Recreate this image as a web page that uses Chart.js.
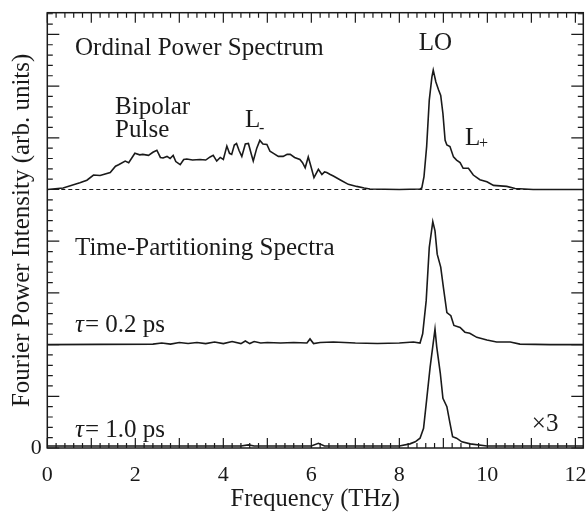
<!DOCTYPE html>
<html>
<head>
<meta charset="utf-8">
<script src="https://cdn.jsdelivr.net/npm/chart.js@4.4.0/dist/chart.umd.min.js"></script>
<style>
  html, body { margin: 0; padding: 0; background: #fff; }
  #wrap { width: 587px; height: 515px; position: relative; }
</style>
</head>
<body>
<div id="wrap"><canvas id="myChart"></canvas></div>
<script>
// Ordinal power spectrum (drawn with offset 5)
const freqOrdinal = [0.00, 0.36, 0.74, 0.90, 1.05, 1.20, 1.43, 1.55, 1.62, 1.77, 1.85, 1.99, 2.10, 2.17, 2.30, 2.40,
    2.49, 2.57, 2.63, 2.72, 2.79, 2.86, 2.92, 3.02, 3.10, 3.17, 3.30, 3.47, 3.60, 3.70, 3.77, 3.85, 3.93, 4.00,
    4.08, 4.14, 4.19, 4.25, 4.30, 4.36, 4.42, 4.50, 4.57, 4.63, 4.68, 4.76, 4.83, 4.90, 4.99, 5.06, 5.14, 5.25,
    5.36, 5.45, 5.52, 5.62, 5.74, 5.80, 5.86, 5.93, 5.99, 6.06, 6.16, 6.24, 6.30, 6.35, 6.43, 6.50, 6.65, 6.84,
    7.03, 7.20, 7.33, 8.00, 8.47, 8.51, 8.56, 8.62, 8.68, 8.74, 8.77, 8.83, 8.89, 8.94, 8.99, 9.04, 9.08, 9.15,
    9.23, 9.30, 9.38, 9.45, 9.57, 9.68, 9.83, 9.99, 10.14, 10.44, 10.63, 11.04, 12.18];
const powOrdinal = [0.00, 0.03, 0.13, 0.18, 0.28, 0.27, 0.33, 0.45, 0.48, 0.55, 0.52, 0.70, 0.67, 0.68, 0.66, 0.72,
    0.76, 0.62, 0.61, 0.64, 0.60, 0.66, 0.54, 0.48, 0.58, 0.59, 0.57, 0.58, 0.57, 0.63, 0.66, 0.55, 0.62, 0.58,
    0.84, 0.70, 0.68, 0.86, 0.89, 0.75, 0.64, 0.88, 0.89, 0.70, 0.55, 0.80, 0.95, 0.88, 0.87, 0.74, 0.70, 0.64,
    0.64, 0.68, 0.68, 0.62, 0.58, 0.52, 0.42, 0.63, 0.45, 0.23, 0.39, 0.29, 0.34, 0.33, 0.29, 0.26, 0.19, 0.10,
    0.06, 0.03, 0.01, 0.00, 0.01, 0.03, 0.25, 0.83, 1.73, 2.18, 2.31, 2.08, 1.93, 1.82, 1.47, 0.95, 0.86, 0.83,
    0.63, 0.57, 0.52, 0.41, 0.41, 0.28, 0.19, 0.15, 0.08, 0.06, 0.02, 0.00, 0.00];

// Time-partitioning spectrum, tau = 0.2 ps (offset 2)
const freqTau02 = [0.00, 2.40, 2.60, 2.80, 3.00, 3.20, 3.40, 3.60, 3.80, 4.00, 4.20, 4.40, 4.50, 4.60, 4.70, 4.85,
    5.00, 5.30, 5.60, 5.90, 5.97, 6.05, 6.20, 6.50, 7.00, 7.50, 8.00, 8.32, 8.47, 8.53, 8.61, 8.68, 8.76, 8.81,
    8.86, 8.94, 9.00, 9.08, 9.17, 9.24, 9.38, 9.49, 9.60, 9.76, 9.99, 10.21, 10.52, 10.74, 11.43, 12.18];
const powTau02 = [0.00, 0.01, 0.03, 0.01, 0.04, 0.02, 0.04, 0.02, 0.05, 0.02, 0.06, 0.02, 0.07, 0.02, 0.06, 0.03,
    0.04, 0.03, 0.04, 0.03, 0.11, 0.02, 0.04, 0.05, 0.03, 0.02, 0.03, 0.05, 0.03, 0.21, 0.85, 1.88, 2.38, 2.20,
    1.75, 1.50, 1.11, 0.62, 0.56, 0.37, 0.33, 0.24, 0.22, 0.14, 0.09, 0.05, 0.05, 0.01, 0.00, 0.00];

// Time-partitioning spectrum, tau = 1.0 ps (offset 0, shown x3)
const freqTau10 = [0.00, 4.40, 4.57, 4.70, 6.00, 6.16, 6.30, 8.00, 8.24, 8.36, 8.47, 8.55, 8.62, 8.70, 8.81, 8.85,
    8.93, 8.99, 9.08, 9.15, 9.21, 9.30, 9.42, 9.61, 9.99, 12.18];
const powTau10 = [0.04, 0.04, 0.06, 0.04, 0.04, 0.09, 0.04, 0.04, 0.08, 0.12, 0.19, 0.38, 0.93, 1.57, 2.30, 1.95,
    1.45, 0.96, 0.80, 0.48, 0.22, 0.19, 0.12, 0.08, 0.04, 0.04];

const offsets = [5, 2, 0];
const xTickLabels = [0, 2, 4, 6, 8, 10, 12];
const yTickLabels = [0];
const X_MAX = 12.18;
const Y_MAX = 8.42;

const serif = '"Liberation Serif", "Times New Roman", serif';
const ink = '#1a1a1a';

function toPoints(freq, pow, offset) {
    return freq.map((f, i) => ({ x: f, y: pow[i] + offset }));
}

// frame with inward ticks on all four sides
const frameTicks = {
    id: 'frameTicks',
    afterDatasetsDraw(chart) {
        const { ctx, chartArea: a, scales: { x, y } } = chart;
        ctx.save();
        ctx.strokeStyle = ink;
        ctx.lineWidth = 1.2;
        ctx.beginPath();
        for (let i = 0; i * 0.2 <= X_MAX + 1e-6; i++) {
            const px = x.getPixelForValue(i * 0.2);
            const len = i % 5 === 0 ? 10 : 5;
            ctx.moveTo(px, a.bottom); ctx.lineTo(px, a.bottom - len);
            ctx.moveTo(px, a.top); ctx.lineTo(px, a.top + len);
        }
        for (let i = 0; i * 0.2 <= Y_MAX + 1e-6; i++) {
            const py = y.getPixelForValue(i * 0.2);
            const len = i % 5 === 0 ? 12 : 5.5;
            ctx.moveTo(a.left, py); ctx.lineTo(a.left + len, py);
            ctx.moveTo(a.right, py); ctx.lineTo(a.right - len, py);
        }
        ctx.stroke();
        ctx.lineWidth = 1.5;
        ctx.strokeRect(a.left, a.top, a.right - a.left, a.bottom - a.top);
        ctx.restore();
    }
};

// text labels placed in data coordinates
const annotations = {
    id: 'annotations',
    afterDraw(chart) {
        const { ctx, scales: { x, y } } = chart;
        const big = '25px ' + serif;
        const it = 'italic 25px ' + serif;
        const small = '16px ' + serif;
        ctx.save();
        ctx.fillStyle = ink;
        ctx.textBaseline = 'alphabetic';

        function put(txt, fx, fy, font, align) {
            ctx.font = font;
            ctx.textAlign = align || 'left';
            ctx.fillText(txt, x.getPixelForValue(fx), y.getPixelForValue(fy));
        }

        put('Ordinal Power Spectrum', 0.63, 7.60, big);
        put('LO', 8.82, 7.70, big, 'center');
        put('Bipolar', 1.54, 6.46, big);
        put('Pulse', 1.54, 6.01, big);
        put('L', 4.49, 6.21, big);
        put('-', 4.81, 6.10, small);
        put('L', 9.49, 5.86, big);
        put('+', 9.81, 5.80, small);
        put('Time-Partitioning Spectra', 0.63, 3.73, big);

        [['= 0.2 ps', 2.25], ['= 1.0 ps', 0.22]].forEach(([rest, fy]) => {
            const px = x.getPixelForValue(0.63);
            const py = y.getPixelForValue(fy);
            ctx.textAlign = 'left';
            ctx.font = it;
            ctx.fillText('\u03c4', px, py);
            const w = ctx.measureText('\u03c4').width;
            ctx.font = big;
            ctx.fillText(rest, px + w + 1, py);
        });

        put('\u00d73', 11.01, 0.32, big);
        ctx.restore();
    }
};

document.addEventListener('DOMContentLoaded', function () {
    const ctx = document.getElementById('myChart');
    const line = { borderColor: ink, borderWidth: 1.6, pointRadius: 0, tension: 0, fill: false };
    new Chart(ctx, {
        type: 'line',
        data: {
            datasets: [
                {
                    label: 'zero line',
                    data: [{ x: 0, y: offsets[0] }, { x: X_MAX, y: offsets[0] }],
                    borderColor: ink, borderWidth: 1, borderDash: [4, 3], pointRadius: 0
                },
                Object.assign({ label: 'Ordinal', data: toPoints(freqOrdinal, powOrdinal, offsets[0]) }, line),
                Object.assign({ label: 'tau 0.2 ps', data: toPoints(freqTau02, powTau02, offsets[1]) }, line),
                Object.assign({ label: 'tau 1.0 ps', data: toPoints(freqTau10, powTau10, offsets[2]) }, line)
            ]
        },
        options: {
            responsive: true,
            maintainAspectRatio: false,
            animation: false,
            layout: { autoPadding: false, padding: { left: 0, top: 12.7, right: 3.7, bottom: 0 } },
            plugins: {
                legend: { display: false },
                tooltip: { enabled: false }
            },
            scales: {
                x: {
                    type: 'linear',
                    min: 0,
                    max: X_MAX,
                    afterBuildTicks: s => { s.ticks = xTickLabels.map(v => ({ value: v })); },
                    afterFit: s => { s.height = 67; s.paddingLeft = 0; s.paddingRight = 0; },
                    grid: { display: false, drawTicks: false },
                    border: { display: false },
                    ticks: { color: ink, font: { family: serif, size: 22 }, padding: 14, maxRotation: 0 },
                    title: {
                        display: true, text: 'Frequency (THz)', color: ink,
                        font: { family: serif, size: 24.5 }, padding: { top: 0, bottom: 1 }
                    }
                },
                y: {
                    type: 'linear',
                    min: 0,
                    max: Y_MAX,
                    afterBuildTicks: s => { s.ticks = yTickLabels.map(v => ({ value: v })); },
                    afterFit: s => { s.width = 47.3; s.paddingTop = 0; s.paddingBottom = 0; },
                    grid: { display: false, drawTicks: false },
                    border: { display: false },
                    ticks: { color: ink, font: { family: serif, size: 22 }, padding: 5.5 },
                    title: {
                        display: true, text: 'Fourier Power Intensity (arb. units)', color: ink,
                        font: { family: serif, size: 25 }, padding: { top: 7, bottom: 0 }
                    }
                }
            }
        },
        plugins: [frameTicks, annotations]
    });
});
</script>
</body>
</html>
